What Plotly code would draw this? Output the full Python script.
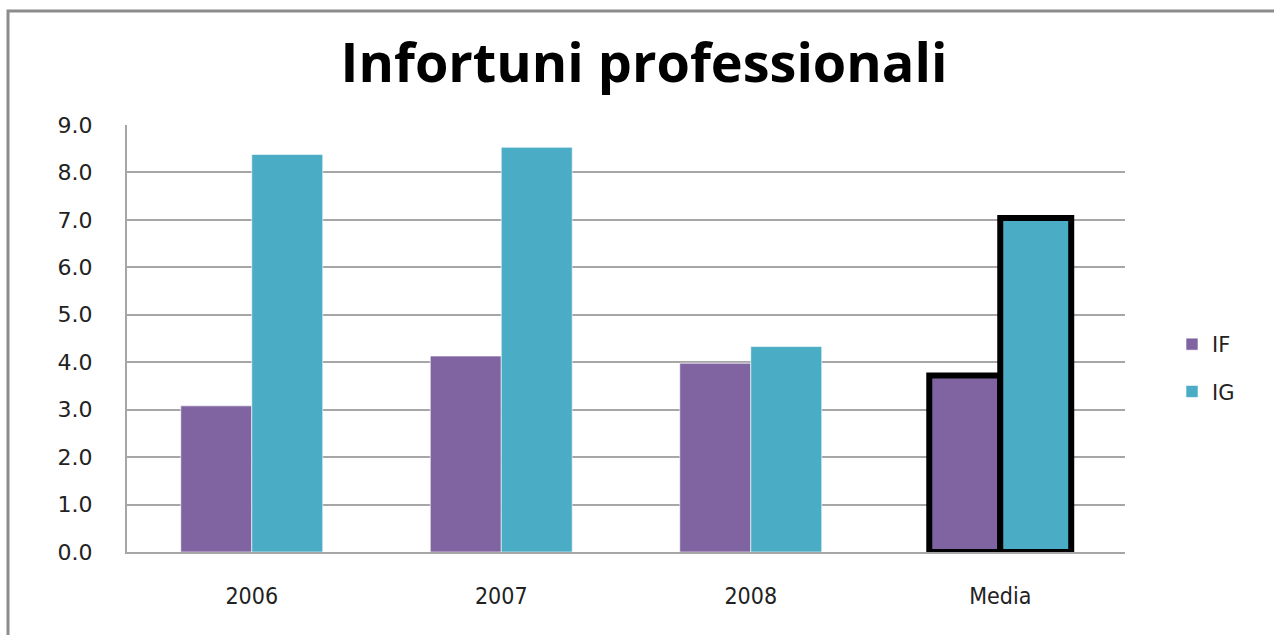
import plotly.graph_objects as go

categories = ["2006", "2007", "2008", "Media"]
if_values = [3.08, 4.13, 3.98, 3.72]
ig_values = [8.38, 8.53, 4.33, 7.04]
y_ticks = [0, 1, 2, 3, 4, 5, 6, 7, 8, 9]
y_tick_labels = ["0.0", "1.0", "2.0", "3.0", "4.0", "5.0", "6.0", "7.0", "8.0", "9.0"]

W, H = 1274, 635
L, R, T, B = 127, 149, 125, 83
pw, ph = W - L - R, H - T - B

line_colors = ["rgba(255,255,255,0.6)"] * 3 + ["black"]
line_widths = [1, 1, 1, 6]

fig = go.Figure()
fig.add_trace(go.Bar(
    name="IF", x=categories, y=if_values,
    marker=dict(color="#8064A2", line=dict(color=line_colors, width=line_widths)),
    legendgroup="a",
))
fig.add_trace(go.Bar(
    name="IG", x=categories, y=ig_values,
    marker=dict(color="#4BACC6", line=dict(color=line_colors, width=line_widths)),
    legendgroup="b",
))

# outer chart border (left and top visible)
fig.add_shape(type="rect", xref="paper", yref="paper",
              x0=(8 - L) / pw, x1=(1290 - L) / pw,
              y0=-(H + 20 - (T + ph)) / ph, y1=(T + ph - 11) / ph,
              line=dict(color="#8C8C8C", width=3), fillcolor="rgba(0,0,0,0)",
              layer="below")

fig.update_layout(
    width=W, height=H,
    margin=dict(l=L, r=R, t=T, b=B, pad=0),
    paper_bgcolor="white", plot_bgcolor="white",
    barmode="group", bargap=0.431, bargroupgap=0,
    title=dict(text="<b>Infortuni professionali</b>",
               font=dict(family="Open Sans", size=54, color="black"),
               x=644 / W, xanchor="center",
               y=1 - 63 / H, yanchor="middle", yref="container"),
    legend=dict(x=(1172 - L) / pw, xanchor="left",
                y=1 - (324 - T) / ph, yanchor="top",
                font=dict(family="DejaVu Sans", size=21, color="#222"),
                tracegroupgap=17, bgcolor="rgba(0,0,0,0)"),
    showlegend=True,
)
fig.update_xaxes(
    showline=True, linecolor="#A6A6A6", linewidth=2,
    ticks="outside", ticklen=22, tickcolor="rgba(0,0,0,0)",
    tickfont=dict(family="DejaVu Sans Condensed, Liberation Sans Narrow, sans-serif",
                  size=23, color="#222"),
    showgrid=False,
)
fig.update_yaxes(
    range=[0, 9], tickvals=y_ticks, ticktext=y_tick_labels,
    showline=True, linecolor="#A6A6A6", linewidth=2,
    showgrid=True, gridcolor="#A6A6A6", gridwidth=2,
    zeroline=False,
    ticks="outside", ticklen=28, tickcolor="rgba(0,0,0,0)",
    tickfont=dict(family="DejaVu Sans", size=22, color="#222"),
)

fig.write_html("out.html", config={"displayModeBar": False},
               post_script="document.body.style.margin='0px';")
